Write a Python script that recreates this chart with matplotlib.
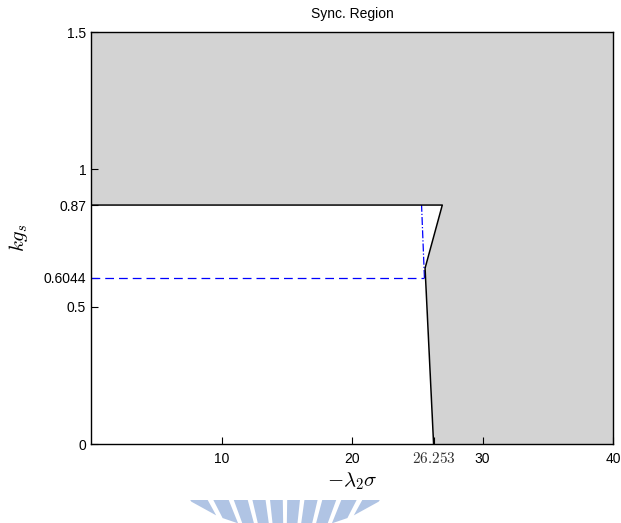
import numpy as np
import matplotlib
matplotlib.use('Agg')
import matplotlib.pyplot as plt
from matplotlib.patches import Polygon

plt.rcParams['font.family'] = ['Liberation Sans', 'DejaVu Sans']
plt.rcParams['mathtext.fontset'] = 'cm'

# boundary of the (white) non-sync region
bound_x = [0, 26.92, 25.6, 26.253]
bound_y = [0.87, 0.87, 0.64, 0]
# helper lines
kg_mark = 0.6044
lam_mark = 26.253
hline_x = [0, 25.55]
vline_x = [25.55, 25.33]
vline_y = [0.6044, 0.87]

xticks = [10, 20, lam_mark, 30, 40]
xticklabels = ['10', '20', '', '30', '40']
yticks = [0, 0.5, kg_mark, 0.87, 1, 1.5]
yticklabels = ['0', '0.5', '0.6044', '0.87', '1', '1.5']

fig = plt.figure(figsize=(6.21, 5.23), dpi=100)
ax = fig.add_axes([91/621, 1-444/523, (613-91)/621, (444-32)/523])
ax.set_facecolor('#d3d3d3')

poly_x = [0] + bound_x
poly_y = [0] + bound_y
ax.fill(poly_x, poly_y, color='white', zorder=1)
ax.plot(bound_x, bound_y, color='black', lw=1.1, zorder=3)
ax.plot(hline_x, [kg_mark, kg_mark], color='blue', ls=(0, (7, 4)), lw=0.9, zorder=2)
ax.plot(vline_x, vline_y, color='blue', ls='-.', lw=0.9, zorder=2)

ax.set_xlim(0, 40)
ax.set_ylim(0, 1.5)
ax.set_xticks(xticks)
ax.set_xticklabels(xticklabels)
ax.set_yticks(yticks)
ax.set_yticklabels(yticklabels)
ax.tick_params(direction='in', length=5, labelsize=10, width=0.8)
ax.tick_params(axis='x', pad=6)
ax.text(lam_mark, -0.027, r'$26.253$', ha='center', va='top', fontsize=11,
        color='#333333', transform=ax.transData)
for s in ax.spines.values():
    s.set_linewidth(1.0)

ax.set_title('Sync. Region', fontsize=10, pad=10)
ax.set_xlabel(r'$-\lambda_2\sigma$', fontsize=15, labelpad=3)
ax.set_ylabel(r'$kg_s$', fontsize=15, labelpad=10)

# watermark stripes at the bottom
W, H = 621.0, 523.0
cx, cy = 285.0, 640.0
ccy, R = 361.0, 169.0
half = 2.6
for a in np.arange(-31.5, 32, 7.0):
    pts = []
    for e in (a - half, a + half):
        r = np.radians(e)
        t_top = (cy - 500) / np.cos(r)
        d = cy - ccy
        t_bot = d*np.cos(r) - np.sqrt(R**2 - (d*np.sin(r))**2)
        pts.append((cx + t_top*np.sin(r), cy - t_top*np.cos(r)))
        pts.append((cx + t_bot*np.sin(r), cy - t_bot*np.cos(r)))
    order = [pts[0], pts[2], pts[3], pts[1]]
    fp = [(px/W, 1 - py/H) for px, py in order]
    fig.add_artist(Polygon(fp, closed=True, transform=fig.transFigure,
                           color='#b0c4e4', lw=0))

fig.savefig('out.png', dpi=100)
